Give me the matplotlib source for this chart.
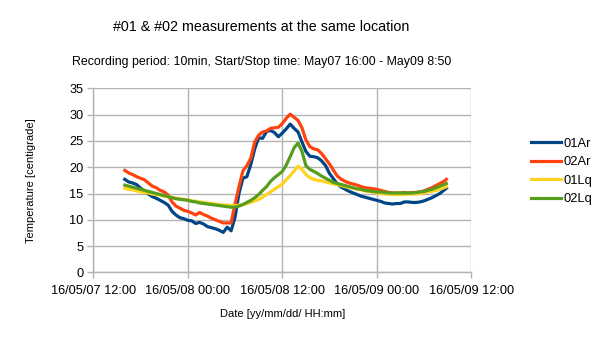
import matplotlib
matplotlib.use("Agg")
import matplotlib.pyplot as plt
import matplotlib.dates as mdates
import pandas as pd

plt.rcParams['font.family'] = ['Liberation Sans', 'DejaVu Sans']

# Sample times: half-hourly readings plus the final record at 08:50
times = list(pd.date_range("2016-05-07 16:00", "2016-05-09 08:30", freq="30min")) + [pd.Timestamp("2016-05-09 08:50")]

t_01ar = [17.7, 17.2, 17.0, 16.7, 16.0, 15.5, 14.9, 14.4, 14.1, 13.7, 13.3, 12.8,
          11.6, 10.9, 10.4, 10.2, 9.9, 9.8, 9.3, 9.5, 9.2, 8.7, 8.5, 8.3,
          8.0, 7.6, 8.6, 7.9, 10.5, 15.0, 17.9, 18.2, 20.5, 23.5, 25.6, 25.5,
          26.8, 27.0, 26.6, 25.8, 26.5, 27.3, 28.2, 27.4, 26.7, 24.8, 23.0, 22.1,
          22.0, 21.8, 21.2, 20.3, 18.8, 17.8, 16.8, 16.2, 15.8, 15.4, 15.1, 14.8,
          14.5, 14.3, 14.1, 13.9, 13.7, 13.5, 13.2, 13.1, 13.0, 13.1, 13.1, 13.4,
          13.4, 13.3, 13.3, 13.4, 13.6, 13.9, 14.2, 14.6, 15.0, 15.6, 16.0]

t_02ar = [19.4, 18.9, 18.6, 18.2, 17.9, 17.6, 17.0, 16.4, 16.1, 15.6, 15.3, 14.7,
          13.4, 12.6, 12.2, 11.8, 11.6, 11.3, 10.9, 11.4, 11.0, 10.7, 10.3, 10.0,
          9.7, 9.4, 9.4, 9.4, 13.0, 16.3, 19.3, 20.3, 21.7, 24.8, 26.1, 26.7,
          26.9, 27.4, 27.5, 27.6, 28.3, 29.3, 30.1, 29.5, 28.9, 27.5, 25.2, 23.9,
          23.5, 23.3, 22.6, 21.6, 20.6, 19.4, 18.3, 17.7, 17.3, 17.0, 16.8, 16.6,
          16.3, 16.1, 16.0, 15.9, 15.8, 15.6, 15.4, 15.2, 15.1, 15.1, 15.1, 15.2,
          15.1, 15.2, 15.2, 15.3, 15.5, 15.8, 16.1, 16.5, 16.9, 17.3, 17.7]

t_01lq = [16.0, 15.8, 15.7, 15.5, 15.3, 15.2, 15.1, 14.9, 14.8, 14.7, 14.5, 14.4,
          14.3, 14.1, 14.0, 13.9, 13.8, 13.6, 13.5, 13.4, 13.3, 13.2, 13.1, 13.0,
          12.9, 12.8, 12.8, 12.7, 12.7, 12.8, 12.9, 13.1, 13.3, 13.6, 13.9, 14.3,
          14.8, 15.3, 15.8, 16.3, 16.8, 17.6, 18.4, 19.3, 20.2, 19.6, 18.6, 18.0,
          17.7, 17.5, 17.4, 17.2, 17.0, 16.8, 16.7, 16.5, 16.3, 16.1, 16.0, 15.8,
          15.7, 15.5, 15.4, 15.2, 15.1, 15.0, 14.9, 14.9, 14.8, 14.8, 14.8, 14.8,
          14.9, 14.9, 14.9, 15.0, 15.1, 15.3, 15.4, 15.6, 15.8, 16.1, 16.3]

t_02lq = [16.6, 16.4, 16.2, 16.0, 15.8, 15.6, 15.4, 15.2, 15.0, 14.8, 14.6, 14.4,
          14.2, 14.0, 13.9, 13.8, 13.7, 13.5, 13.4, 13.2, 13.1, 13.0, 12.9, 12.8,
          12.7, 12.6, 12.5, 12.4, 12.4, 12.6, 12.9, 13.3, 13.7, 14.2, 14.8, 15.6,
          16.3, 17.3, 18.0, 18.6, 19.2, 20.4, 22.0, 23.7, 24.6, 23.0, 20.3, 19.6,
          19.2, 18.8, 18.3, 17.9, 17.5, 17.1, 16.9, 16.7, 16.5, 16.3, 16.1, 15.9,
          15.8, 15.6, 15.5, 15.4, 15.3, 15.3, 15.2, 15.1, 15.1, 15.1, 15.1, 15.1,
          15.1, 15.1, 15.2, 15.3, 15.4, 15.6, 15.8, 16.1, 16.4, 16.7, 16.9]

series_names = ["01Ar", "02Ar", "01Lq", "02Lq"]
series_colors = ["#004586", "#ff420e", "#ffd320", "#579d1c"]
series_values = [t_01ar, t_02ar, t_01lq, t_02lq]

x_ticks = pd.date_range("2016-05-07 12:00", "2016-05-09 12:00", freq="12h")
y_ticks = [0, 5, 10, 15, 20, 25, 30, 35]

fig = plt.figure(figsize=(6.05, 3.4), dpi=100)
ax = fig.add_axes([0.1542, 0.199, 0.6248, 0.541])

for name, color, vals in zip(series_names, series_colors, series_values):
    ax.plot(times, vals, color=color, lw=2.3, label=name, solid_joinstyle="round")

grid_c = "#b3b3b3"
ax.set_xlim(x_ticks[0], x_ticks[-1])
ax.set_ylim(0, 35)
ax.set_xticks(x_ticks)
ax.set_yticks(y_ticks)
ax.xaxis.set_major_formatter(mdates.DateFormatter("%y/%m/%d %H:%M"))
ax.grid(True, color=grid_c, lw=1.0)
ax.set_axisbelow(True)
for side in ["top", "right"]:
    ax.spines[side].set_visible(False)
for side in ["left", "bottom"]:
    ax.spines[side].set_color(grid_c)
    ax.spines[side].set_linewidth(1.0)
ax.tick_params(axis="both", colors=grid_c, length=4, width=1.0, labelsize=9.2,
               labelcolor="#000000", pad=3)
ax.tick_params(axis="x", pad=5)

ax.set_xlabel("Date [yy/mm/dd/ HH:mm]", fontsize=8, labelpad=9)
ax.set_ylabel("Temperature [centigrade]", fontsize=8, labelpad=24)

fig.text(0.431, 0.921, "#01 & #02 measurements at the same location",
         ha="center", va="center", fontsize=10.3)
fig.text(0.432, 0.818, "Recording period: 10min, Start/Stop time: May07 16:00 - May09 8:50",
         ha="center", va="center", fontsize=8.9)

ax.legend(loc="center left", bbox_to_anchor=(1.144, 0.548), frameon=False,
          fontsize=9.3, handlelength=2.3, handletextpad=0.2, labelspacing=0.5,
          borderaxespad=0)

fig.savefig("out.png", dpi=100)
